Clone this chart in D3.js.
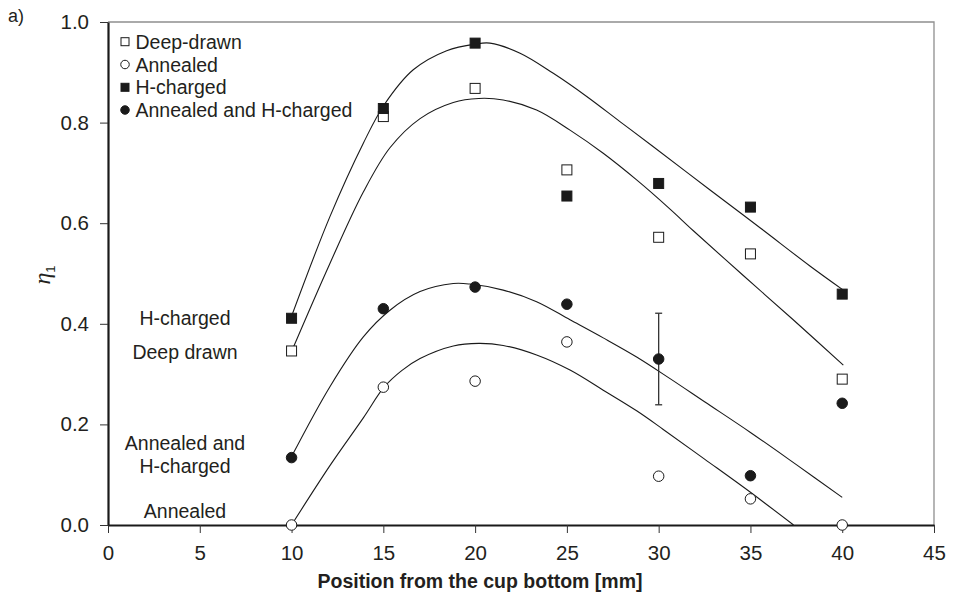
<!DOCTYPE html>
<html>
<head>
<meta charset="utf-8">
<script src="https://cdn.jsdelivr.net/npm/d3@7"></script>
<style>
  html, body { margin: 0; padding: 0; background: #fff; }
  svg { display: block; }
  text { font-family: "Liberation Sans", Arial, Helvetica, sans-serif; fill: #231f20; }
</style>
</head>
<body>
<svg id="chart" width="955" height="601"></svg>
<script>
// Measurement positions along the cup wall [mm]
const positions = [10, 15, 20, 25, 30, 35, 40];

// Measured eta_1 per specimen condition
const deepDrawn        = [0.346, 0.812, 0.868, 0.706, 0.572, 0.539, 0.290];
const annealed         = [0.000, 0.274, 0.286, 0.364, 0.097, 0.052, 0.000];
const hCharged         = [0.411, 0.828, 0.958, 0.654, 0.679, 0.632, 0.459];
const annealedHCharged = [0.134, 0.430, 0.473, 0.439, 0.330, 0.098, 0.242];

// Scatter band for the annealed + H-charged point at 30 mm
const errorBarX = 30;
const errorBarLow = 0.239;
const errorBarHigh = 0.421;

// Trend curves, as [position, eta_1] knots
const hChargedTrend = [[10.0,0.415],[12.09,0.613],[13.91,0.759],[15.04,0.835],[16.63,0.905],[18.45,0.943],[20.0,0.956],[20.81,0.958],[22.45,0.938],[24.26,0.898],[26.08,0.852],[27.89,0.802],[29.71,0.752],[32.8,0.666],[35.52,0.591],[38.24,0.515],[40.06,0.467]];
const deepDrawnTrend = [[10.0,0.345],[12.09,0.520],[13.91,0.662],[15.36,0.750],[17.0,0.808],[18.81,0.840],[20.2,0.848],[21.53,0.845],[23.35,0.825],[25.17,0.785],[26.98,0.739],[28.8,0.686],[30.62,0.628],[31.89,0.585],[34.61,0.496],[37.33,0.408],[40.06,0.318]];
const annealedHChargedTrend = [[10.0,0.136],[12.09,0.275],[13.91,0.374],[15.36,0.427],[17.0,0.464],[18.81,0.480],[19.72,0.479],[21.53,0.467],[23.35,0.444],[25.17,0.408],[26.98,0.372],[28.8,0.334],[30.62,0.291],[32.5,0.245],[35.0,0.184],[37.5,0.120],[40.0,0.055]];
const annealedTrend = [[10.0,0.0],[12.09,0.118],[13.91,0.213],[15.04,0.274],[16.0,0.307],[17.0,0.331],[18.81,0.356],[20.2,0.361],[21.53,0.357],[23.35,0.338],[25.17,0.308],[26.98,0.268],[28.8,0.227],[30.25,0.190],[32.5,0.131],[35.0,0.065],[37.35,0.0]];

// Axis ticks
const xTicks = [0, 5, 10, 15, 20, 25, 30, 35, 40, 45];
const yTicks = [0.0, 0.2, 0.4, 0.6, 0.8, 1.0];

// Legend entries and in-plot curve labels
const legendLabels = ["Deep-drawn", "Annealed", "H-charged", "Annealed and H-charged"];
const curveLabels = [
  { lines: ["H-charged"], at: 0.411 },
  { lines: ["Deep drawn"], at: 0.344 },
  { lines: ["Annealed and", "H-charged"], at: 0.140 },
  { lines: ["Annealed"], at: 0.027 }
];

const svg = d3.select("#chart");
const ink = "#1a1a1a";

const x = d3.scaleLinear().domain([0, 45]).range([108, 934]);
const y = d3.scaleLinear().domain([0, 1]).range([525, 22]);

// Panel tag
svg.append("text").attr("x", 8).attr("y", 22)
  .style("font-size", "18px").text("a)");

// Light frame on top and right
svg.append("path")
  .attr("d", `M${x(0)},${y(1)}H${x(45)}V${y(0)}`)
  .attr("fill", "none").attr("stroke", "#8f8f8f").attr("stroke-width", 1.3);

// Axes
const xAxis = svg.append("g").attr("transform", `translate(0,${y(0)})`)
  .call(d3.axisBottom(x).tickValues(xTicks).tickFormat(d3.format("d"))
    .tickSize(8).tickSizeOuter(0).tickPadding(12));
const yAxis = svg.append("g").attr("transform", `translate(${x(0)},0)`)
  .call(d3.axisLeft(y).tickValues(yTicks).tickFormat(d3.format(".1f"))
    .tickSize(8).tickSizeOuter(0).tickPadding(11));
[xAxis, yAxis].forEach(g => {
  g.select(".domain").attr("stroke", ink).attr("stroke-width", 2.2);
  g.selectAll(".tick line").attr("stroke", "#333").attr("stroke-width", 1);
  g.selectAll(".tick text").attr("fill", "#231f20")
    .style("font-size", "20.5px")
    .style("font-family", "'Liberation Sans', Arial, Helvetica, sans-serif");
});

// Axis titles
svg.append("text")
  .attr("x", 480).attr("y", 588).attr("text-anchor", "middle")
  .style("font-size", "19.5px").style("font-weight", "bold")
  .text("Position from the cup bottom [mm]");

const yTitle = svg.append("text")
  .attr("transform", "translate(50,275) rotate(-90)")
  .attr("text-anchor", "middle");
yTitle.append("tspan")
  .style("font-family", "'Liberation Serif', 'DejaVu Serif', serif")
  .style("font-style", "italic").style("font-size", "24px").text("η");
yTitle.append("tspan")
  .attr("dy", 5).style("font-size", "13px").text("1");

// Trend curves
const line = d3.line().x(d => x(d[0])).y(d => y(d[1])).curve(d3.curveCatmullRom.alpha(0.5));
[hChargedTrend, deepDrawnTrend, annealedHChargedTrend, annealedTrend].forEach(pts => {
  svg.append("path").attr("d", line(pts))
    .attr("fill", "none").attr("stroke", ink).attr("stroke-width", 1.1);
});

// Scatter band
const eb = svg.append("g").attr("stroke", "#333").attr("stroke-width", 1.3);
eb.append("line").attr("x1", x(errorBarX)).attr("x2", x(errorBarX))
  .attr("y1", y(errorBarLow)).attr("y2", y(errorBarHigh));
[errorBarLow, errorBarHigh].forEach(v => {
  eb.append("line").attr("x1", x(errorBarX) - 3.5).attr("x2", x(errorBarX) + 3.5)
    .attr("y1", y(v)).attr("y2", y(v));
});

// Markers
function drawMarker(g, shape, filled, cx, cy, size) {
  const fill = filled ? ink : "#fff";
  if (shape === "square") {
    g.append("rect").attr("x", cx - size / 2).attr("y", cy - size / 2)
      .attr("width", size).attr("height", size)
      .attr("fill", fill).attr("stroke", ink).attr("stroke-width", 1);
  } else {
    g.append("circle").attr("cx", cx).attr("cy", cy).attr("r", size / 2)
      .attr("fill", fill).attr("stroke", ink).attr("stroke-width", 1);
  }
}

const seriesStyles = [
  { values: deepDrawn, shape: "square", filled: false },
  { values: annealed, shape: "circle", filled: false },
  { values: hCharged, shape: "square", filled: true },
  { values: annealedHCharged, shape: "circle", filled: true }
];

const marks = svg.append("g");
seriesStyles.forEach(s => {
  s.values.forEach((v, i) => {
    drawMarker(marks, s.shape, s.filled, x(positions[i]), y(v), s.shape === "square" ? 10 : 10.5);
  });
});

// Legend
const legend = svg.append("g");
const legendRowY = [41.7, 64.5, 87.3, 110];
seriesStyles.forEach((s, i) => {
  drawMarker(legend, s.shape, s.filled, 125, legendRowY[i], s.shape === "square" ? 8 : 8.5);
  legend.append("text").attr("x", 135.5).attr("y", legendRowY[i]).attr("dy", "0.36em")
    .style("font-size", "19.5px").text(legendLabels[i]);
});

// Curve labels on the left of the plot
curveLabels.forEach(c => {
  const t = svg.append("text").attr("text-anchor", "middle")
    .style("font-size", "19.5px");
  const n = c.lines.length;
  c.lines.forEach((ln, k) => {
    t.append("tspan").attr("x", 185)
      .attr("y", y(c.at) + (k - (n - 1) / 2) * 23)
      .attr("dy", "0.36em").text(ln);
  });
});
</script>
</body>
</html>
